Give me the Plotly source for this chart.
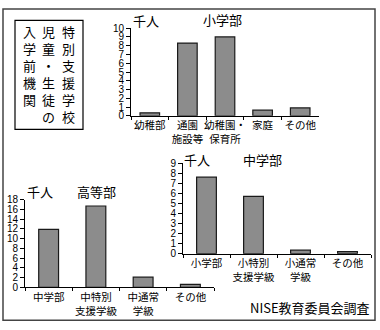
import plotly.graph_objects as go

# ---- data ----
elem_cats = ["幼稚部", "通園<br>施設等", "幼稚園・<br>保育所", "家庭", "その他"]
elem_vals = [0.35, 8.3, 9.0, 0.65, 0.9]

high_cats = ["中学部", "中特別<br>支援学級", "中通常<br>学級", "その他"]
high_vals = [11.9, 16.7, 2.1, 0.6]

mid_cats = ["小学部", "小特別<br>支援学級", "小通常<br>学級", "その他"]
mid_vals = [7.6, 5.7, 0.35, 0.2]

box_columns = ["特別支援学校", "児童・生徒の", "入学前機関"]

W, H = 380, 330
def px(x):
    return x / W
def py(y):
    return 1 - y / H

FONT = "Liberation Sans, Arial, Noto Sans CJK JP, sans-serif"
JFONT = "Noto Sans CJK JP, sans-serif"
BAR_FILL = "#8c8c8c"
BAR_LINE = "#1a1a1a"

fig = go.Figure()
fig.add_trace(go.Bar(x=elem_cats, y=elem_vals, xaxis="x", yaxis="y", width=0.52,
                     marker=dict(color=BAR_FILL, line=dict(color=BAR_LINE, width=1.2))))
fig.add_trace(go.Bar(x=high_cats, y=high_vals, xaxis="x2", yaxis="y2", width=0.42,
                     marker=dict(color=BAR_FILL, line=dict(color=BAR_LINE, width=1.2))))
fig.add_trace(go.Bar(x=mid_cats, y=mid_vals, xaxis="x3", yaxis="y3", width=0.42,
                     marker=dict(color=BAR_FILL, line=dict(color=BAR_LINE, width=1.2))))

xcommon = dict(type="category", showline=True, linecolor="black", linewidth=1,
               ticks="outside", ticklen=3, tickcolor="black", tickson="boundaries",
               tickangle=0, showgrid=False, zeroline=False, fixedrange=True,
               tickfont=dict(family=JFONT, size=10.5, color="black"))
ycommon = dict(showline=True, linecolor="black", linewidth=1,
               ticks="outside", ticklen=4, tickcolor="black",
               showgrid=False, zeroline=False, fixedrange=True,
               tickfont=dict(family=FONT, size=10, color="black"))

layout = dict(
    width=W, height=H, margin=dict(l=0, r=0, t=0, b=0),
    paper_bgcolor="white", plot_bgcolor="rgba(0,0,0,0)",
    showlegend=False, bargap=0.4,
    font=dict(family=FONT, color="black"),
    xaxis=dict(xcommon, domain=[px(131), px(319)], anchor="y"),
    yaxis=dict(ycommon, domain=[py(114), py(23)], anchor="x", range=[0, 10], dtick=1),
    xaxis2=dict(xcommon, domain=[px(25), px(214)], anchor="y2"),
    yaxis2=dict(ycommon, domain=[py(292), py(201)], anchor="x2", range=[0, 18], dtick=2),
    xaxis3=dict(xcommon, domain=[px(183), px(371)], anchor="y3"),
    yaxis3=dict(ycommon, domain=[py(257), py(163)], anchor="x3", range=[0, 9], dtick=1),
)
fig.update_layout(**layout)

ann = []
def label(text, x, y, size=13, xanchor="center", yanchor="middle"):
    ann.append(dict(text=text, x=px(x), y=py(y), xref="paper", yref="paper",
                    xanchor=xanchor, yanchor=yanchor, showarrow=False,
                    font=dict(family=JFONT, size=size, color="black")))

label("千人", 146, 15)
label("小学部", 222, 14)
label("千人", 40, 193)
label("高等部", 96, 192)
label("千人", 197, 159)
label("中学部", 262, 159)
label("NISE教育委員会調査", 372, 313, xanchor="right")

# vertical box text: one annotation per column, one character per line
col_x = [68, 48, 29]
for cx, text in zip(col_x, box_columns):
    label("<br>".join(text), cx, 15, size=13, yanchor="top")

fig.update_layout(annotations=ann)

fig.update_layout(shapes=[
    dict(type="rect", xref="paper", yref="paper",
         x0=px(15), x1=px(83), y0=py(128), y1=py(15),
         line=dict(color="black", width=1.2)),
    dict(type="rect", xref="paper", yref="paper",
         x0=px(3), x1=px(375), y0=py(326), y1=py(3),
         line=dict(color="#444444", width=1.5)),
])

fig.write_html("out.html")
